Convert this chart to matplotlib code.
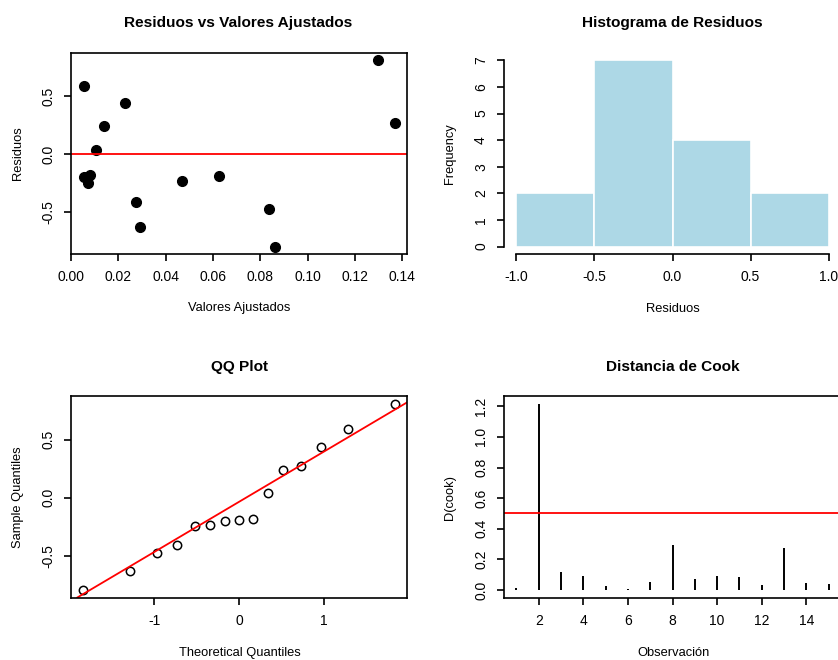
import numpy as np
import matplotlib
matplotlib.use("Agg")
import matplotlib.pyplot as plt

plt.rcParams['font.family'] = ['Liberation Sans', 'DejaVu Sans']
plt.rcParams['axes.unicode_minus'] = False

# ---- data ----
fitted = [0.0054, 0.0229, 0.0141, 0.0107, 0.0053, 0.0080, 0.0072, 0.0275,
          0.0292, 0.0468, 0.0624, 0.0838, 0.0862, 0.1300, 0.1368]
residuals = [0.59, 0.44, 0.239, 0.038, -0.200, -0.180, -0.247, -0.408,
             -0.630, -0.235, -0.192, -0.474, -0.796, 0.808, 0.273]
theoretical_q = [-1.834, -1.282, -0.967, -0.728, -0.524, -0.341, -0.168, 0.0,
                 0.168, 0.341, 0.524, 0.728, 0.967, 1.282, 1.834]
hist_breaks = [-1.0, -0.5, 0.0, 0.5, 1.0]
observations = list(range(1, 16))
cook_d = [0.012, 1.215, 0.120, 0.091, 0.026, 0.009, 0.050, 0.293, 0.070,
          0.089, 0.087, 0.035, 0.272, 0.046, 0.037]
cook_threshold = 0.5

W, H = 838, 660
fig = plt.figure(figsize=(W / 100, H / 100), dpi=100)

FS_TICK = 10.0
FS_LAB = 9.3
TFS = 11.1
LW = 1.2


def px_axes(x0, y0, x1, y1):
    return fig.add_axes([x0 / W, 1 - y1 / H, (x1 - x0) / W, (y1 - y0) / H])


def r_lim(v):
    lo, hi = min(v), max(v)
    d = 0.04 * (hi - lo)
    return lo - d, hi + d


def style(ax, box=True):
    for s in ax.spines.values():
        s.set_linewidth(LW)
        s.set_visible(box)
    ax.tick_params(axis='both', direction='out', length=5, width=LW,
                   labelsize=FS_TICK)
    ax.tick_params(axis='x', pad=6.6)
    ax.tick_params(axis='y', pad=6.5, labelrotation=90)
    for lab in ax.get_yticklabels():
        lab.set_verticalalignment('center')


def ftext(x, y, s, **kw):
    fig.text(x / W, 1 - y / H, s, ha='center', va='center', **kw)


# ---- Panel 1: residuals vs fitted ----
ax1 = px_axes(71, 53, 407, 254)
ax1.plot(fitted, residuals, 'o', color='black', ms=7)
ax1.axhline(0, color='red', lw=1.3)
ax1.set_xlim(*r_lim(fitted))
ax1.set_ylim(*r_lim(residuals))
xt1 = [0.0, 0.02, 0.04, 0.06, 0.08, 0.10, 0.12, 0.14]
ax1.set_xticks(xt1, [f"{v:.2f}" for v in xt1])
ax1.set_yticks([-0.5, 0.0, 0.5], ["-0.5", "0.0", "0.5"])
style(ax1)
ftext(238, 23, "Residuos vs Valores Ajustados", fontsize=TFS, fontweight='bold')
ftext(239, 308.5, "Valores Ajustados", fontsize=FS_LAB)
ftext(18, 153.5, "Residuos", fontsize=FS_LAB, rotation=90)

# ---- Panel 2: histogram ----
ax2 = px_axes(504, 53, 841, 254)
ax2.hist(residuals, bins=hist_breaks, color='#ADD8E6', edgecolor='white',
         linewidth=1.2)
ax2.set_xlim(-1.08, 1.08)
ax2.set_ylim(-0.28, 7.28)
ax2.set_xticks(hist_breaks, ["-1.0", "-0.5", "0.0", "0.5", "1.0"])
ax2.set_yticks(range(0, 8), [str(i) for i in range(0, 8)])
style(ax2, box=False)
ax2.spines['left'].set_visible(True)
ax2.spines['bottom'].set_visible(True)
ax2.spines['left'].set_bounds(0, 7)
ax2.spines['bottom'].set_bounds(-1, 1)
ftext(672.5, 23, "Histograma de Residuos", fontsize=TFS, fontweight='bold')
ftext(673, 308.5, "Residuos", fontsize=FS_LAB)
ftext(450, 154, "Frequency", fontsize=FS_LAB, rotation=90)

# ---- Panel 3: QQ plot ----
ax3 = px_axes(71, 396.5, 407, 597.5)
sample_q = sorted(residuals)
ax3.plot(theoretical_q, sample_q, 'o', mfc='none', mec='black', ms=6, mew=1.1)
yq = np.percentile(residuals, [25, 75])
xq = np.array([-0.6745, 0.6745])
slope = (yq[1] - yq[0]) / (xq[1] - xq[0])
intercept = yq[0] - slope * xq[0]
ax3.axline((0, intercept), slope=slope, color='red', lw=1.3)
ax3.set_xlim(*r_lim(theoretical_q))
ax3.set_ylim(*r_lim(sample_q))
ax3.set_xticks([-1, 0, 1], ["-1", "0", "1"])
ax3.set_yticks([-0.5, 0.0, 0.5], ["-0.5", "0.0", "0.5"])
style(ax3)
ftext(239, 367, "QQ Plot", fontsize=TFS, fontweight='bold')
ftext(239.5, 653, "Theoretical Quantiles", fontsize=FS_LAB)
ftext(18, 497.5, "Sample Quantiles", fontsize=FS_LAB, rotation=90)

# ---- Panel 4: Cook's distance ----
ax4 = px_axes(504, 396.5, 841, 597.5)
ax4.vlines(observations, 0, cook_d, color='black', lw=1.4)
ax4.axhline(cook_threshold, color='red', lw=1.3)
ax4.set_xlim(*r_lim(observations))
ax4.set_ylim(*r_lim([0] + cook_d))
ax4.set_xticks(range(2, 15, 2), [str(i) for i in range(2, 15, 2)])
yt4 = [0.0, 0.2, 0.4, 0.6, 0.8, 1.0, 1.2]
ax4.set_yticks(yt4, [f"{v:.1f}" for v in yt4])
style(ax4)
ftext(672.5, 367, "Distancia de Cook", fontsize=TFS, fontweight='bold')
ftext(673, 652.5, "Observación", fontsize=FS_LAB)
ftext(450, 497.5, "D(cook)", fontsize=FS_LAB, rotation=90)

fig.savefig("out.png", dpi=100)
